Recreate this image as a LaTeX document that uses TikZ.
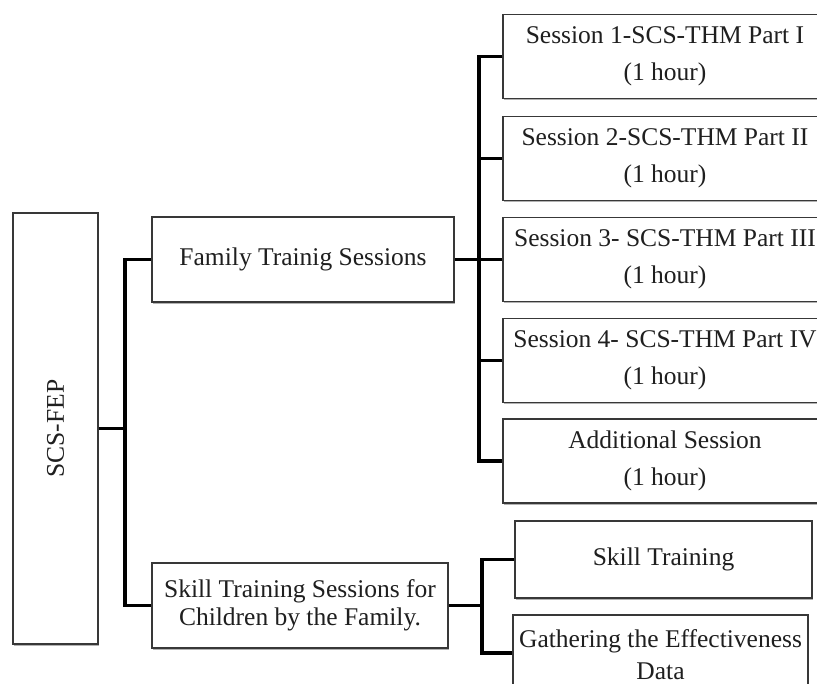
\documentclass[tikz,border=0pt]{standalone}
\usepackage{fontspec}
\setmainfont{Liberation Serif}
\usetikzlibrary{shadows}
\begin{document}
\begin{tikzpicture}[x=1pt,y=-1pt,
  box/.style={draw=black!78, line width=1.3pt, fill=white, inner sep=0pt, align=center,
    text=black!88, font=\fontsize{25.5}{37}\selectfont,
    drop shadow={shadow xshift=1.2pt, shadow yshift=-1.6pt, opacity=0.3, fill=black}},
  tight/.style={font=\fontsize{25.5}{28}\selectfont},
  tighter/.style={font=\fontsize{25.5}{32}\selectfont},
  sess/.style={box, minimum width=324pt, minimum height=84pt},
  link/.style={line width=3.6pt, black}]
\useasboundingbox (0,0) rectangle (817,684);
\clip (0,0) rectangle (817,684);
\fill[white] (0,0) rectangle (817,684);

% nodes
\node[box, minimum width=85pt, minimum height=431pt] (root) at (55.5,428.5) {\rotatebox{90}{SCS-FEP}};
\node[box, minimum width=302pt, minimum height=85pt] (fam) at (303,259.5) {Family Trainig Sessions};
\node[box, tight, minimum width=296pt, minimum height=85pt] (skill) at (300,605.5) {Skill Training Sessions for\\Children by the Family.};

\node[sess] (s1) at (665,56.5) {Session 1-SCS-THM Part I\\(1 hour)};
\node[sess] (s2) at (665,158.5) {Session 2-SCS-THM Part II\\(1 hour)};
\node[sess] (s3) at (665,259.5) {Session 3- SCS-THM Part III\\(1 hour)};
\node[sess] (s4) at (665,360.5) {Session 4- SCS-THM Part IV\\(1 hour)};
\node[sess] (add) at (665,461) {Additional Session\\(1 hour)};

\node[box, minimum width=297pt, minimum height=77pt] (st) at (663.5,559.5) {Skill Training};
\node[box, tighter, minimum width=295pt, minimum height=80pt] (gath) at (660.5,655) {Gathering the Effectiveness\\Data};

% junctions
\coordinate (spA) at (125,428.5);
\coordinate (spB) at (479,260);
\coordinate (spC) at (482,605.5);

% connectors
\draw[link] (fam.west) -| (spA) |- (skill.west);
\draw[link] (root.east) -- (spA);

\draw[link] (s1.west) -| (spB) |- (add.west);
\draw[link] (fam.east) -- (s3.west);
\draw[link] (s2.west) -- (s2.west -| spB);
\draw[link] (s4.west) -- (s4.west -| spB);

\draw[link] (st.west) -| (spC) |- ([yshift=2pt]gath.west);
\draw[link] (skill.east) -- (spC);
\end{tikzpicture}
\end{document}
